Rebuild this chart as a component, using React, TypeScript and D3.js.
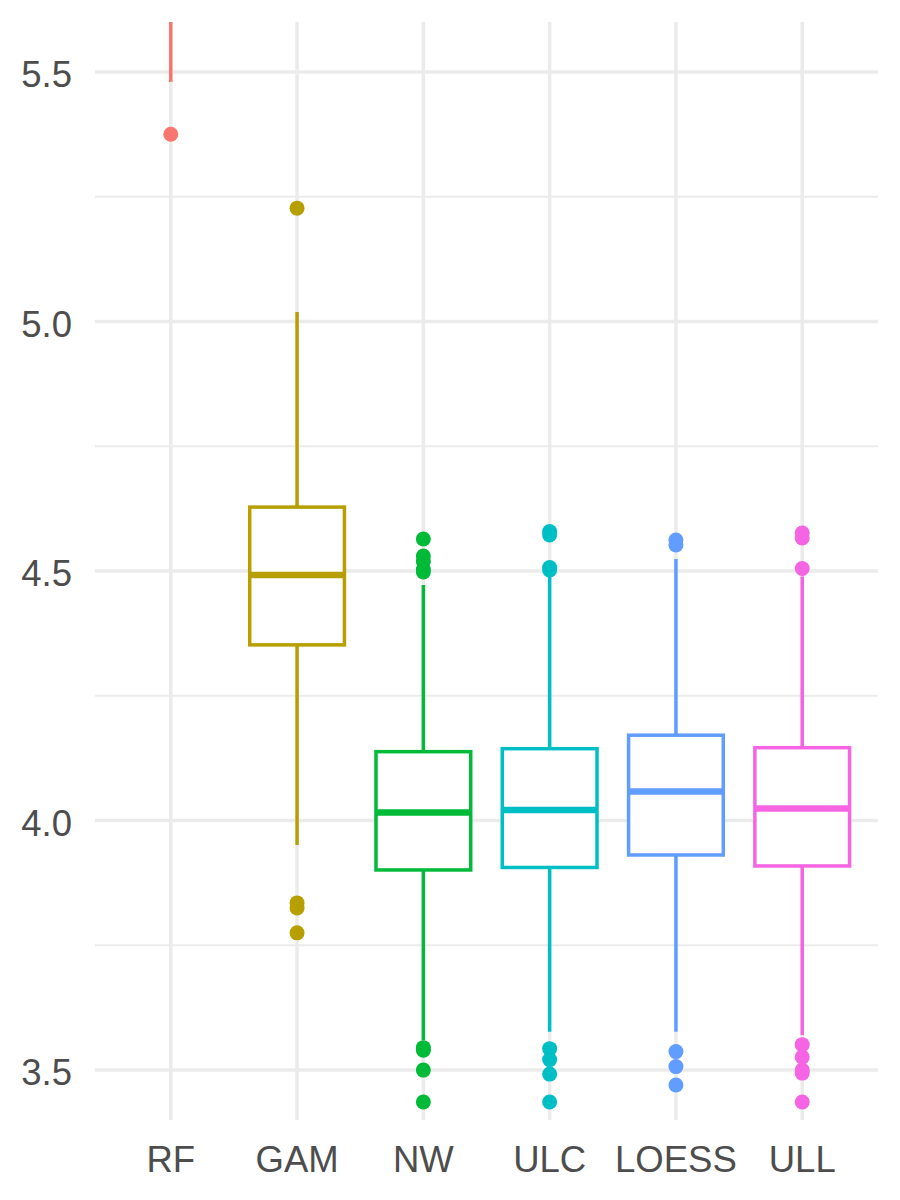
import * as d3 from 'd3';
import React, { FC, useEffect, useRef } from 'react';

// box statistics
const methods = ['RF', 'GAM', 'NW', 'ULC', 'LOESS', 'ULL'];
const colors = ['#F8766D', '#B79F00', '#00BA38', '#00BFC4', '#619CFF', '#F564E3'];
const lowerWhisker = [5.48, 3.951, 3.56, 3.577, 3.577, 3.57];
const q1 = [5.75, 4.352, 3.901, 3.906, 3.931, 3.909];
const medians = [5.95, 4.492, 4.016, 4.021, 4.058, 4.024];
const q3 = [6.15, 4.628, 4.138, 4.144, 4.171, 4.146];
const upperWhisker = [6.5, 5.019, 4.472, 4.489, 4.524, 4.489];
const outliers = [
  [5.375],
  [5.227, 3.835, 3.825, 3.775],
  [4.564, 4.53, 4.519, 4.503, 4.498, 3.545, 3.54, 3.5, 3.436],
  [4.579, 4.572, 4.507, 4.502, 3.543, 3.521, 3.492, 3.436],
  [4.562, 4.552, 3.537, 3.507, 3.47],
  [4.576, 4.566, 4.505, 3.551, 3.526, 3.5, 3.494, 3.436]
];
const yTicks = [3.5, 4.0, 4.5, 5.0, 5.5];
const yMinorTicks = [3.75, 4.25, 4.75, 5.25];

const width = 900;
const height = 1200;
const margin = { top: 22, right: 22, bottom: 80, left: 95 };
const font = '"Liberation Sans", Arial, sans-serif';

const BoxChart: FC = (): JSX.Element => {
  const ref = useRef<SVGSVGElement>(null);

  useEffect(() => {
    const svg = d3.select(ref.current).attr('width', width).attr('height', height);
    svg.selectAll('*').remove();

    const x = d3
      .scalePoint<string>()
      .domain(methods)
      .range([margin.left, width - margin.right])
      .padding(0.6);

    const y = d3
      .scaleLinear()
      .domain([3.4, 5.6])
      .range([height - margin.bottom, margin.top]);

    const boxW = x.step() * 0.75;

    svg
      .append('defs')
      .append('clipPath')
      .attr('id', 'panel')
      .append('rect')
      .attr('x', margin.left)
      .attr('y', margin.top)
      .attr('width', width - margin.left - margin.right)
      .attr('height', height - margin.top - margin.bottom);

    const grid = svg.append('g');

    grid
      .selectAll('.minor')
      .data(yMinorTicks)
      .enter()
      .append('line')
      .attr('x1', margin.left)
      .attr('x2', width - margin.right)
      .attr('y1', (d) => y(d))
      .attr('y2', (d) => y(d))
      .attr('stroke', '#EBEBEB')
      .attr('stroke-width', 2);

    grid
      .selectAll('.major')
      .data(yTicks)
      .enter()
      .append('line')
      .attr('x1', margin.left)
      .attr('x2', width - margin.right)
      .attr('y1', (d) => y(d))
      .attr('y2', (d) => y(d))
      .attr('stroke', '#EBEBEB')
      .attr('stroke-width', 3.5);

    grid
      .selectAll('.vert')
      .data(methods)
      .enter()
      .append('line')
      .attr('x1', (d) => x(d))
      .attr('x2', (d) => x(d))
      .attr('y1', margin.top)
      .attr('y2', height - margin.bottom)
      .attr('stroke', '#EBEBEB')
      .attr('stroke-width', 3.5);

    const panel = svg.append('g').attr('clip-path', 'url(#panel)');

    methods.forEach((m, i) => {
      const cx = x(m);
      const g = panel.append('g').attr('stroke', colors[i]).attr('fill', 'none');

      g.append('line')
        .attr('x1', cx)
        .attr('x2', cx)
        .attr('y1', y(upperWhisker[i]))
        .attr('y2', y(q3[i]))
        .attr('stroke-width', 3.5);

      g.append('line')
        .attr('x1', cx)
        .attr('x2', cx)
        .attr('y1', y(q1[i]))
        .attr('y2', y(lowerWhisker[i]))
        .attr('stroke-width', 3.5);

      g.append('rect')
        .attr('x', cx - boxW / 2)
        .attr('y', y(q3[i]))
        .attr('width', boxW)
        .attr('height', y(q1[i]) - y(q3[i]))
        .attr('fill', 'white')
        .attr('stroke-width', 3.5);

      g.append('line')
        .attr('x1', cx - boxW / 2)
        .attr('x2', cx + boxW / 2)
        .attr('y1', y(medians[i]))
        .attr('y2', y(medians[i]))
        .attr('stroke-width', 6.5);

      panel
        .append('g')
        .selectAll('circle')
        .data(outliers[i])
        .enter()
        .append('circle')
        .attr('cx', cx)
        .attr('cy', (d) => y(d))
        .attr('r', 7.5)
        .attr('fill', colors[i]);
    });

    svg
      .append('g')
      .selectAll('text')
      .data(yTicks)
      .enter()
      .append('text')
      .attr('x', 72)
      .attr('y', (d) => y(d))
      .attr('dy', '0.42em')
      .attr('text-anchor', 'end')
      .attr('font-family', font)
      .attr('font-size', 36.5)
      .attr('fill', '#4D4D4D')
      .text((d) => d3.format('.1f')(d));

    svg
      .append('g')
      .selectAll('text')
      .data(methods)
      .enter()
      .append('text')
      .attr('x', (d) => x(d))
      .attr('y', height - margin.bottom + 51.5)
      .attr('text-anchor', 'middle')
      .attr('font-family', font)
      .attr('font-size', 36.5)
      .attr('fill', '#4D4D4D')
      .text((d) => d);
  }, []);

  return <svg ref={ref} style={{ position: 'absolute', left: 0, top: 0 }} />;
};

const App: FC = () => <BoxChart />;

export default App;
